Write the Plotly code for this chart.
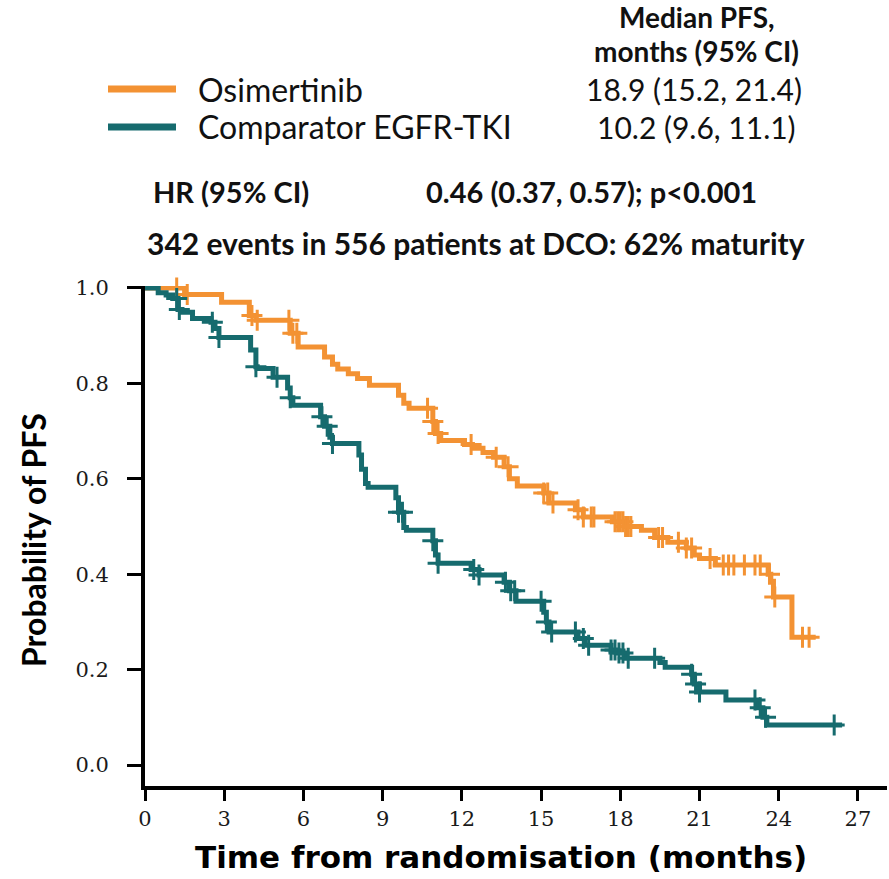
import plotly.graph_objects as go

# ---------------- data ----------------
osi_t = [0, 1.5, 2.9, 3.95, 4.2, 5.5, 5.8, 6.8, 7.1, 7.3, 7.7, 8.05, 8.5, 9.6, 9.8, 10.0,
         10.9, 11.0, 11.2, 12.1, 12.4, 12.8, 13.2, 13.6, 13.8, 14.1, 15.1, 15.3, 16.3, 16.6,
         17.7, 18.2, 18.8, 19.3, 19.8, 20.5, 20.8, 21.0, 21.6, 23.6, 23.7, 23.8, 24.5, 25.4]
osi_s = [1.0, 0.986, 0.97, 0.942, 0.932, 0.905, 0.876, 0.855, 0.84, 0.83, 0.82, 0.81, 0.796,
         0.775, 0.758, 0.748, 0.72, 0.695, 0.68, 0.672, 0.664, 0.655, 0.645, 0.625, 0.60, 0.585,
         0.57, 0.549, 0.535, 0.52, 0.51, 0.50, 0.492, 0.477, 0.467, 0.455, 0.44, 0.433, 0.419,
         0.40, 0.385, 0.352, 0.268, 0.268]
osi_cens = [1.2, 1.6, 4.05, 4.25, 5.45, 5.6, 5.75, 10.7, 10.9, 11.1, 12.35, 13.3, 13.75,
            15.1, 15.25, 15.45, 16.4, 16.6, 16.9, 17.0, 17.8, 17.9, 18.0, 18.1, 18.2, 18.3,
            18.4, 19.45, 19.6, 20.2, 20.5, 20.7, 21.4, 21.9, 22.1, 22.3, 22.7, 23.1, 23.3,
            23.65, 23.85, 24.9, 25.15]

cmp_t = [0, 0.5, 0.8, 1.05, 1.25, 1.4, 1.8, 2.5, 2.65, 2.8, 4.0, 4.2, 4.25, 4.85, 5.4, 5.5,
         5.6, 6.65, 6.8, 7.0, 7.1, 8.1, 8.2, 8.35, 8.45, 9.5, 9.6, 9.8, 9.9, 10.9, 11.0, 11.1,
         12.35, 12.65, 13.6, 13.8, 14.05, 15.1, 15.2, 15.3, 16.4, 16.65, 17.65, 17.9, 18.2,
         19.5, 19.7, 20.7, 20.8, 21.0, 22.0, 23.2, 23.4, 23.55, 26.4]
cmp_s = [1.0, 0.99, 0.985, 0.978, 0.955, 0.949, 0.936, 0.928, 0.915, 0.896, 0.87, 0.835,
         0.831, 0.813, 0.79, 0.77, 0.754, 0.73, 0.71, 0.687, 0.674, 0.65, 0.62, 0.59, 0.582,
         0.56, 0.53, 0.498, 0.492, 0.47, 0.44, 0.423, 0.41, 0.398, 0.383, 0.365, 0.343, 0.32,
         0.30, 0.279, 0.265, 0.251, 0.241, 0.235, 0.224, 0.215, 0.205, 0.19, 0.17, 0.153,
         0.136, 0.12, 0.10, 0.084, 0.084]
cmp_cens = [1.2, 1.3, 2.55, 2.8, 4.2, 5.0, 5.5, 6.7, 6.9, 7.1, 9.6, 9.75, 10.9, 11.1, 12.45,
            12.65, 13.65, 13.85, 14.0, 15.0, 15.2, 15.4, 16.3, 16.6, 16.8, 17.65, 17.8, 17.95,
            18.1, 18.3, 19.3, 20.7, 20.85, 21.0, 23.1, 23.3, 23.5, 26.1]

x_ticks = [0, 3, 6, 9, 12, 15, 18, 21, 24, 27]
y_ticks = [0.0, 0.2, 0.4, 0.6, 0.8, 1.0]

ORANGE = "#F39233"
TEAL = "#166B6E"


def surv_at(times, surv, t):
    val = surv[0]
    for ti, si in zip(times, surv):
        if ti <= t:
            val = si
    return val


fig = go.Figure()
for t, s, c, col, nm in [(osi_t, osi_s, osi_cens, ORANGE, "Osimertinib"),
                         (cmp_t, cmp_s, cmp_cens, TEAL, "Comparator EGFR-TKI")]:
    fig.add_trace(go.Scatter(x=t, y=s, mode="lines", line=dict(color=col, width=5, shape="hv"),
                             name=nm, showlegend=False, cliponaxis=False))
    fig.add_trace(go.Scatter(x=c, y=[surv_at(t, s, ci) for ci in c], mode="markers",
                             marker=dict(symbol="cross-thin", size=15,
                                         line=dict(color=col, width=3)),
                             showlegend=False, cliponaxis=False))

L, R, T, B = 145, 2, 286, 93
W, H = 889, 879
PW, PH = W - L - R, H - T - B


def px(x):
    return (x - L) / PW


def py(y):
    return (H - B - y) / PH


def f(size):
    return dict(family="Lato", size=size, color="#111111")


ann = [
    dict(text="<b>Median PFS,</b>", x=px(697), y=py(17), xanchor="center", font=f(28)),
    dict(text="<b>months (95% CI)</b>", x=px(696), y=py(51), xanchor="center", font=f(28)),
    dict(text="Osimertinib", x=px(196), y=py(89), xanchor="left", font=f(32)),
    dict(text="Comparator EGFR-TKI", x=px(196), y=py(127), xanchor="left", font=f(32)),
    dict(text="18.9 (15.2, 21.4)", x=px(694), y=py(89), xanchor="center", font=f(30)),
    dict(text="10.2 (9.6, 11.1)", x=px(696), y=py(127), xanchor="center", font=f(30)),
    dict(text="<b>HR (95% CI)</b>", x=px(151), y=py(191), xanchor="left", font=f(29)),
    dict(text="<b>0.46 (0.37, 0.57); p<0.001</b>", x=px(424), y=py(191), xanchor="left", font=f(29)),
    dict(text="<b>342 events in 556 patients at DCO: 62% maturity</b>", x=px(476), y=py(243),
         xanchor="center", font=f(30)),
    dict(text="<b>Time from randomisation (months)</b>", x=px(501), y=py(857), xanchor="center",
         font=dict(family="DejaVu Sans", size=31, color="#000000")),
    dict(text="<b>Probability of PFS</b>", x=px(33), y=py(540), xanchor="center", textangle=-90,
         font=dict(family="Lato", size=32, color="#000000")),
]
for a in ann:
    a.update(xref="paper", yref="paper", yanchor="middle", showarrow=False)

shapes = [
    dict(type="line", xref="paper", yref="paper", x0=px(108), x1=px(176), y0=py(89), y1=py(89),
         line=dict(color=ORANGE, width=7)),
    dict(type="line", xref="paper", yref="paper", x0=px(108), x1=px(176), y0=py(127), y1=py(127),
         line=dict(color=TEAL, width=7)),
]

fig.update_layout(
    width=W, height=H, margin=dict(l=L, r=R, t=T, b=B, autoexpand=False),
    paper_bgcolor="white", plot_bgcolor="white",
    annotations=ann, shapes=shapes, showlegend=False,
    xaxis=dict(range=[0, 28.1], tickvals=x_ticks, ticktext=[str(v) for v in x_ticks],
               showgrid=False, zeroline=False, showline=True, linecolor="black", linewidth=4,
               ticks="outside", ticklen=11, tickwidth=3, tickcolor="black",
               tickfont=dict(family="DejaVu Serif", size=21, color="#1a1a1a"),
               ticklabelstandoff=0),
    yaxis=dict(range=[-0.044, 1.004], tickvals=y_ticks, ticktext=[f"{v:.1f}" for v in y_ticks],
               showgrid=False, zeroline=False, showline=True, linecolor="black", linewidth=4,
               ticks="outside", ticklen=14, tickwidth=3, tickcolor="black",
               tickfont=dict(family="DejaVu Serif", size=21, color="#1a1a1a"),
               ticklabelstandoff=14),
)

fig.write_html("out.html")
